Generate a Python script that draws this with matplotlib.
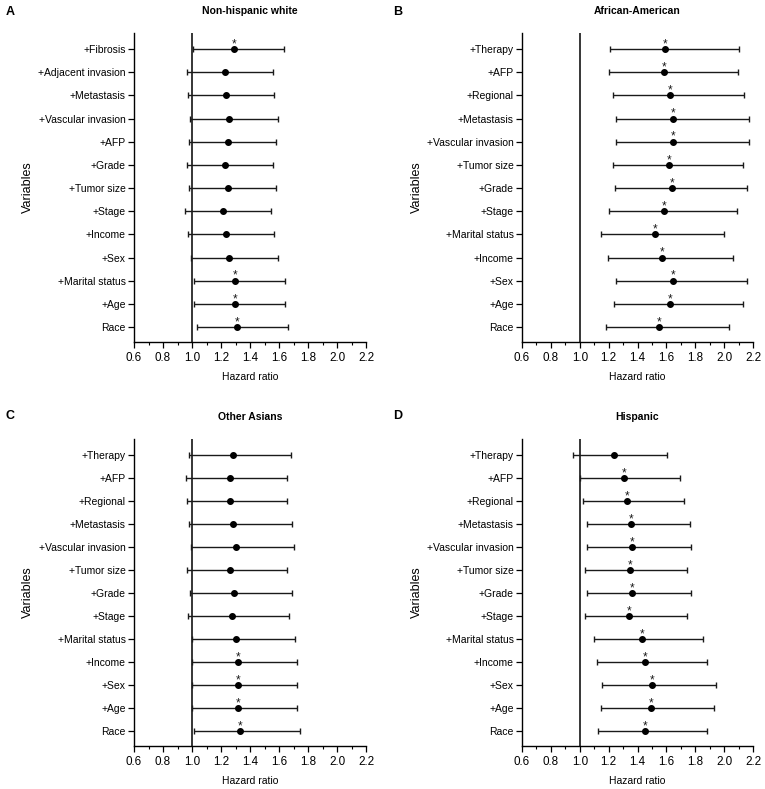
import matplotlib
matplotlib.use("Agg")
import matplotlib.pyplot as plt
from matplotlib.ticker import MultipleLocator
import numpy as np

plt.rcParams['font.family'] = ['Liberation Sans', 'DejaVu Sans']

# ---- data (bottom to top order: Race first) ----
vars_A = ["Race", "+Age", "+Marital status", "+Sex", "+Income", "+Stage", "+Tumor size",
          "+Grade", "+AFP", "+Vascular invasion", "+Metastasis", "+Adjacent invasion", "+Fibrosis"]
hr_A = [1.310, 1.294, 1.294, 1.252, 1.232, 1.213, 1.245, 1.227, 1.245, 1.252, 1.232, 1.227, 1.287]
lo_A = [1.036, 1.017, 1.017, 0.990, 0.973, 0.955, 0.980, 0.967, 0.980, 0.987, 0.971, 0.967, 1.008]
hi_A = [1.665, 1.642, 1.642, 1.596, 1.566, 1.543, 1.582, 1.561, 1.582, 1.591, 1.566, 1.561, 1.637]
sig_A = [1, 1, 1, 0, 0, 0, 0, 0, 0, 0, 0, 0, 1]

vars_B = ["Race", "+Age", "+Sex", "+Income", "+Marital status", "+Stage", "+Grade",
          "+Tumor size", "+Vascular invasion", "+Metastasis", "+Regional", "+AFP", "+Therapy"]
hr_B = [1.547, 1.623, 1.646, 1.570, 1.519, 1.584, 1.639, 1.616, 1.648, 1.648, 1.623, 1.586, 1.593]
lo_B = [1.182, 1.237, 1.253, 1.193, 1.150, 1.203, 1.246, 1.228, 1.251, 1.253, 1.233, 1.203, 1.207]
hi_B = [2.032, 2.131, 2.161, 2.064, 2.001, 2.092, 2.161, 2.131, 2.169, 2.172, 2.140, 2.094, 2.101]
sig_B = [1] * 13

vars_C = ["Race", "+Age", "+Sex", "+Income", "+Marital status", "+Stage", "+Grade",
          "+Tumor size", "+Vascular invasion", "+Metastasis", "+Regional", "+AFP", "+Therapy"]
hr_C = [1.331, 1.319, 1.319, 1.319, 1.305, 1.273, 1.289, 1.264, 1.301, 1.285, 1.262, 1.262, 1.282]
lo_C = [1.015, 1.003, 1.003, 1.003, 0.997, 0.969, 0.983, 0.967, 0.992, 0.980, 0.964, 0.962, 0.978]
hi_C = [1.746, 1.727, 1.727, 1.727, 1.711, 1.670, 1.693, 1.658, 1.704, 1.688, 1.658, 1.656, 1.686]
sig_C = [1, 1, 1, 1, 0, 0, 0, 0, 0, 0, 0, 0, 0]

vars_D = ["Race", "+Age", "+Sex", "+Income", "+Marital status", "+Stage", "+Grade",
          "+Tumor size", "+Vascular invasion", "+Metastasis", "+Regional", "+AFP", "+Therapy"]
hr_D = [1.452, 1.491, 1.503, 1.452, 1.429, 1.341, 1.362, 1.346, 1.362, 1.357, 1.327, 1.307, 1.235]
lo_D = [1.124, 1.150, 1.156, 1.122, 1.101, 1.039, 1.050, 1.039, 1.053, 1.048, 1.023, 1.004, 0.951]
hi_D = [1.884, 1.928, 1.944, 1.884, 1.851, 1.743, 1.771, 1.743, 1.768, 1.761, 1.722, 1.697, 1.604]
sig_D = [1, 1, 1, 1, 1, 1, 1, 1, 1, 1, 1, 1, 0]

titles = ["Non-hispanic white", "African-American", "Other Asians", "Hispanic"]
letters = ["A", "B", "C", "D"]
xticks = [0.6, 0.8, 1.0, 1.2, 1.4, 1.6, 1.8, 2.0, 2.2]

W, H = 765, 789
fig = plt.figure(figsize=(W / 100, H / 100), dpi=100)

# axes boxes in pixels: (left, top, right, bottom)
boxes = [(134, 33, 366, 342), (522, 33, 753, 342),
         (134, 439, 366, 746), (522, 439, 753, 746)]

panels = [(vars_A, hr_A, lo_A, hi_A, sig_A), (vars_B, hr_B, lo_B, hi_B, sig_B),
          (vars_C, hr_C, lo_C, hi_C, sig_C), (vars_D, hr_D, lo_D, hi_D, sig_D)]

for i, (box, data) in enumerate(zip(boxes, panels)):
    l, t, r, b = box
    ax = fig.add_axes([l / W, 1 - b / H, (r - l) / W, (b - t) / H])
    names, hr, lo, hi, sig = data
    hr = np.array(hr); lo = np.array(lo); hi = np.array(hi)
    y = np.arange(len(names))
    ax.axvline(1.0, color='black', lw=1.1, zorder=1)
    ax.errorbar(hr, y, xerr=[hr - lo, hi - hr], fmt='o', color='black',
                ecolor='#1a1a1a', elinewidth=1.0, capsize=2.0, capthick=1.0,
                markersize=4, zorder=3)
    for yy, xx, s in zip(y, hr, sig):
        if s:
            ax.annotate("*", (xx, yy), xytext=(0, 3.5), textcoords='offset points',
                        ha='center', va='center', fontsize=8.5, color='#1a1a1a')
    ax.set_xlim(0.6, 2.2)
    ax.set_ylim(-0.65, len(names) - 1 + 0.7)
    ax.set_xticks(xticks)
    ax.set_xticklabels([f"{v:.1f}" for v in xticks])
    ax.xaxis.set_minor_locator(MultipleLocator(0.1))
    ax.set_yticks(y)
    ax.set_yticklabels(names)
    ax.spines['top'].set_visible(False)
    ax.spines['right'].set_visible(False)
    ax.spines['left'].set_linewidth(1.0)
    ax.spines['bottom'].set_linewidth(1.0)
    ax.tick_params(axis='y', which='major', labelsize=7.5, length=4, width=0.9,
                   direction='out', colors='black', pad=2)
    ax.tick_params(axis='x', which='major', labelsize=8.4, length=4, width=0.9,
                   direction='out', colors='black', pad=3)
    ax.tick_params(axis='x', which='minor', length=2.2, width=0.8)
    ax.set_xlabel("Hazard ratio", fontsize=7.5, labelpad=6)
    ax.set_ylabel("Variables", fontsize=9)
    ax.yaxis.set_label_coords(-0.43, 0.5)
    ax.set_title(titles[i], fontsize=7.5, fontweight='bold', pad=0,
                 y=1 + 22 / (b - t), va='center')
    lx = 6 if i % 2 == 0 else 393
    ly = 12 if i < 2 else 416
    fig.text(lx / W, 1 - ly / H, letters[i], fontsize=9, fontweight='bold',
             va='center', ha='left')

fig.savefig("out.png", dpi=100)
